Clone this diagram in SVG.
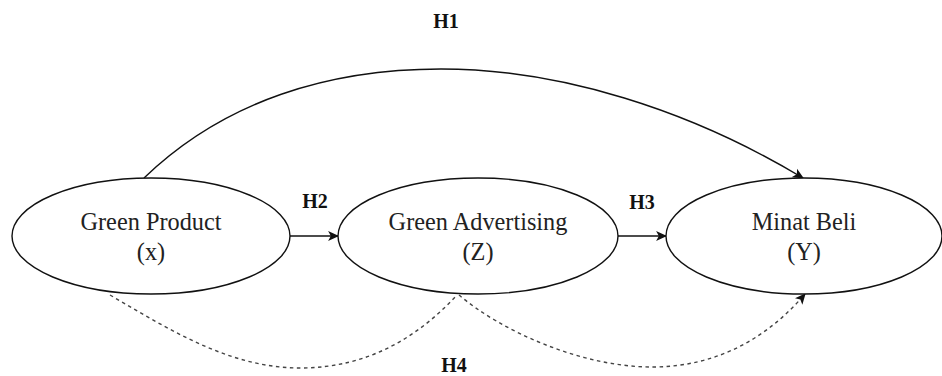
<svg xmlns="http://www.w3.org/2000/svg" width="942" height="376" viewBox="0 0 942 376">
<style>
.node ellipse{fill:#fff;stroke:#111;stroke-width:1.4}
.node text{font-family:"Liberation Serif","Times New Roman",serif;font-size:24.3px;fill:#222;text-anchor:middle}
.lbl{font-family:"Liberation Serif","Times New Roman",serif;font-size:20px;font-weight:bold;fill:#111;text-anchor:middle}
.solid{fill:none;stroke:#111;stroke-width:1.4}
.dash{fill:none;stroke:#444;stroke-width:1.4;stroke-dasharray:3.5 3.5}
</style>
<defs>
<marker id="arr" viewBox="0 0 10 10" refX="9" refY="5" markerWidth="11" markerHeight="11" markerUnits="userSpaceOnUse" orient="auto">
<path d="M0,0.5 L10,5 L0,9.5 L2.5,5 Z" fill="#111"/>
</marker>
</defs>
<rect width="942" height="376" fill="#fff"/>
<g id="connectors">
<path class="solid" d="M144,178 C225,100 330,69 441,69 C560,69 690,110 803,178" marker-end="url(#arr)"/>
<path class="solid" d="M290,236 L338,236" marker-end="url(#arr)"/>
<path class="solid" d="M618,236 L666,236" marker-end="url(#arr)"/>
<path class="dash" d="M110,295 C170,330 230,368 300,368 C370,368 420,335 457,295"/>
<path class="dash" d="M459,295 C500,330 580,367 652,367 C720,367 770,335 805,294" marker-end="url(#arr)"/>
</g>
<g id="green-product" class="node">
<ellipse cx="151" cy="236" rx="139" ry="58"/>
<text x="151" y="230">Green Product</text>
<text x="151" y="260">(x)</text>
</g>
<g id="green-advertising" class="node">
<ellipse cx="478" cy="236" rx="140" ry="58"/>
<text x="478" y="230">Green Advertising</text>
<text x="478" y="260">(Z)</text>
</g>
<g id="minat-beli" class="node">
<ellipse cx="804" cy="236" rx="138" ry="58"/>
<text x="804" y="230">Minat Beli</text>
<text x="804" y="260">(Y)</text>
</g>
<g id="labels">
<text class="lbl" x="446" y="28">H1</text>
<text class="lbl" x="315" y="208">H2</text>
<text class="lbl" x="642" y="209">H3</text>
<text class="lbl" x="454" y="372">H4</text>
</g>
</svg>
